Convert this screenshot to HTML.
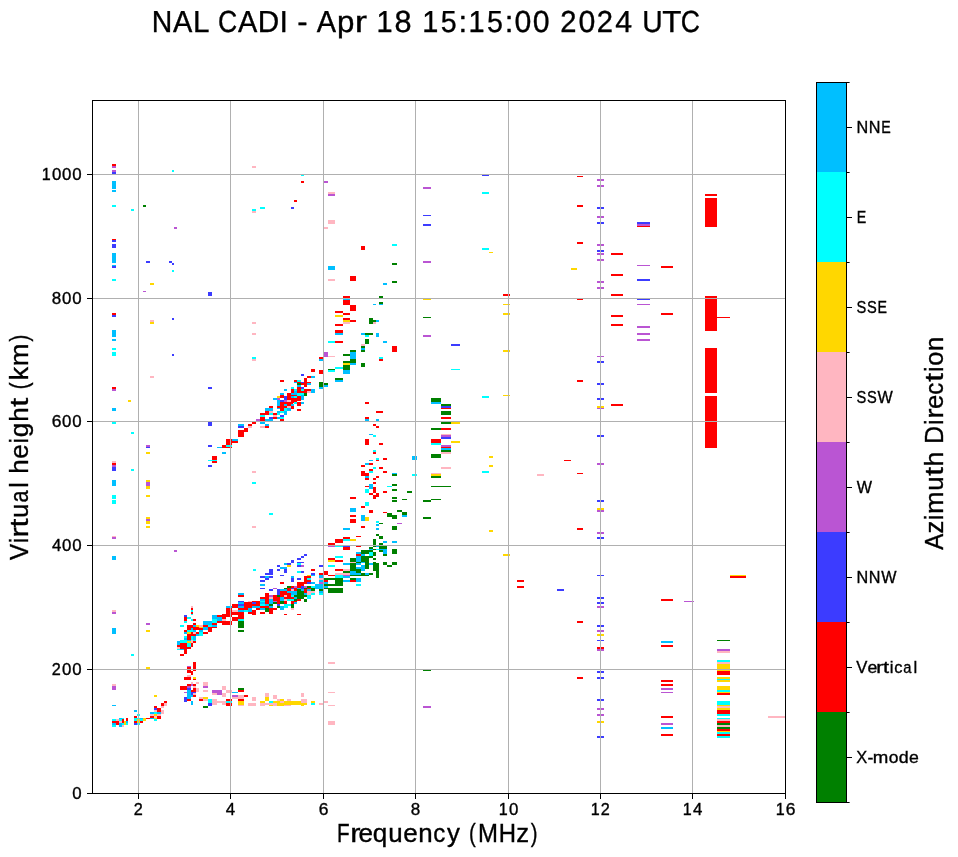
<!DOCTYPE html><html><head><meta charset="utf-8"><style>html,body{margin:0;padding:0;background:#fff;width:958px;height:857px;overflow:hidden}svg{display:block;will-change:transform}text{font-family:"Liberation Sans", sans-serif;fill:#000;stroke:#000;stroke-width:0.35px}</style></head><body>
<svg width="958" height="857" viewBox="0 0 958 857" shape-rendering="crispEdges">
<rect x="0" y="0" width="958" height="857" fill="#fff"/>
<g>
<rect x="112" y="164" width="4" height="2" fill="#ff0000"/>
<rect x="112" y="166" width="4" height="2" fill="#ba55d3"/>
<rect x="112" y="170" width="4" height="2" fill="#ba55d3"/>
<rect x="112" y="172" width="4" height="2" fill="#3c3cff"/>
<rect x="112" y="181" width="4" height="8" fill="#00bfff"/>
<rect x="112" y="190" width="4" height="2" fill="#00bfff"/>
<rect x="112" y="205" width="4" height="2" fill="#00ffff"/>
<rect x="131" y="209" width="3" height="2" fill="#00ffff"/>
<rect x="143" y="205" width="3" height="2" fill="#008000"/>
<rect x="172" y="170" width="2" height="2" fill="#00ffff"/>
<rect x="174" y="227" width="3" height="2" fill="#ba55d3"/>
<rect x="112" y="239" width="4" height="1" fill="#ff0000"/>
<rect x="112" y="240" width="4" height="2" fill="#3c3cff"/>
<rect x="112" y="244" width="4" height="4" fill="#3c3cff"/>
<rect x="252" y="166" width="4" height="2" fill="#ffb6c1"/>
<rect x="252" y="209" width="4" height="2" fill="#00ffff"/>
<rect x="252" y="211" width="4" height="2" fill="#ffb6c1"/>
<rect x="260" y="207" width="5" height="2" fill="#00ffff"/>
<rect x="291" y="207" width="3" height="2" fill="#3c3cff"/>
<rect x="301" y="175" width="3" height="1" fill="#00ffff"/>
<rect x="301" y="181" width="3" height="2" fill="#ff0000"/>
<rect x="324" y="181" width="4" height="2" fill="#ba55d3"/>
<rect x="328" y="192" width="7" height="2" fill="#ffb6c1"/>
<rect x="328" y="194" width="7" height="2" fill="#ba55d3"/>
<rect x="294" y="200" width="3" height="2" fill="#ff0000"/>
<rect x="328" y="220" width="7" height="4" fill="#ffb6c1"/>
<rect x="324" y="227" width="4" height="2" fill="#ffb6c1"/>
<rect x="392" y="244" width="5" height="2" fill="#00ffff"/>
<rect x="423" y="187" width="8" height="2" fill="#ba55d3"/>
<rect x="423" y="215" width="8" height="1" fill="#3c3cff"/>
<rect x="423" y="224" width="8" height="2" fill="#3c3cff"/>
<rect x="482" y="175" width="7" height="1" fill="#3c3cff"/>
<rect x="482" y="192" width="7" height="2" fill="#00ffff"/>
<rect x="482" y="248" width="7" height="2" fill="#00ffff"/>
<rect x="577" y="176" width="6" height="1" fill="#ff0000"/>
<rect x="577" y="205" width="6" height="2" fill="#ff0000"/>
<rect x="577" y="242" width="6" height="2" fill="#ff0000"/>
<rect x="597" y="179" width="7" height="2" fill="#ba55d3"/>
<rect x="597" y="185" width="7" height="2" fill="#ba55d3"/>
<rect x="597" y="207" width="7" height="2" fill="#3c3cff"/>
<rect x="597" y="216" width="7" height="2" fill="#ba55d3"/>
<rect x="597" y="222" width="7" height="2" fill="#3c3cff"/>
<rect x="597" y="244" width="7" height="2" fill="#ba55d3"/>
<rect x="637" y="222" width="13" height="2" fill="#3c3cff"/>
<rect x="637" y="224" width="13" height="2" fill="#ba55d3"/>
<rect x="637" y="226" width="13" height="1" fill="#ff0000"/>
<rect x="705" y="194" width="12" height="2" fill="#ff0000"/>
<rect x="705" y="198" width="12" height="29" fill="#ff0000"/>
<rect x="112" y="253" width="4" height="10" fill="#00bfff"/>
<rect x="112" y="265" width="4" height="1" fill="#00bfff"/>
<rect x="112" y="266" width="4" height="2" fill="#3c3cff"/>
<rect x="112" y="279" width="4" height="2" fill="#00ffff"/>
<rect x="112" y="313" width="4" height="2" fill="#ff0000"/>
<rect x="112" y="315" width="4" height="2" fill="#3c3cff"/>
<rect x="112" y="330" width="4" height="7" fill="#00bfff"/>
<rect x="112" y="339" width="4" height="2" fill="#00bfff"/>
<rect x="112" y="348" width="4" height="2" fill="#00ffff"/>
<rect x="146" y="261" width="4" height="2" fill="#3c3cff"/>
<rect x="169" y="261" width="3" height="2" fill="#3c3cff"/>
<rect x="172" y="263" width="2" height="2" fill="#3c3cff"/>
<rect x="172" y="270" width="2" height="2" fill="#00ffff"/>
<rect x="150" y="283" width="4" height="2" fill="#ffd700"/>
<rect x="143" y="291" width="3" height="1" fill="#ba55d3"/>
<rect x="172" y="318" width="2" height="2" fill="#3c3cff"/>
<rect x="150" y="320" width="4" height="2" fill="#ffb6c1"/>
<rect x="150" y="322" width="4" height="2" fill="#ffd700"/>
<rect x="208" y="292" width="4" height="4" fill="#3c3cff"/>
<rect x="252" y="322" width="4" height="2" fill="#ffb6c1"/>
<rect x="252" y="333" width="4" height="2" fill="#ffb6c1"/>
<rect x="328" y="266" width="7" height="4" fill="#00bfff"/>
<rect x="328" y="279" width="7" height="2" fill="#ffb6c1"/>
<rect x="350" y="276" width="6" height="5" fill="#ff0000"/>
<rect x="392" y="263" width="5" height="2" fill="#008000"/>
<rect x="392" y="281" width="5" height="2" fill="#008000"/>
<rect x="383" y="283" width="4" height="2" fill="#00bfff"/>
<rect x="343" y="296" width="7" height="2" fill="#ff0000"/>
<rect x="343" y="298" width="7" height="2" fill="#00bfff"/>
<rect x="343" y="300" width="7" height="5" fill="#ff0000"/>
<rect x="350" y="305" width="6" height="6" fill="#ff0000"/>
<rect x="379" y="296" width="4" height="2" fill="#008000"/>
<rect x="379" y="302" width="4" height="2" fill="#008000"/>
<rect x="379" y="304" width="4" height="1" fill="#00bfff"/>
<rect x="373" y="304" width="3" height="1" fill="#00bfff"/>
<rect x="335" y="311" width="8" height="2" fill="#ff0000"/>
<rect x="343" y="313" width="7" height="2" fill="#ff0000"/>
<rect x="335" y="315" width="8" height="2" fill="#ffd700"/>
<rect x="343" y="318" width="7" height="2" fill="#ff0000"/>
<rect x="343" y="320" width="7" height="2" fill="#ffd700"/>
<rect x="343" y="322" width="7" height="2" fill="#ffb6c1"/>
<rect x="350" y="320" width="6" height="2" fill="#ff0000"/>
<rect x="335" y="324" width="8" height="2" fill="#ff0000"/>
<rect x="335" y="330" width="8" height="3" fill="#ff0000"/>
<rect x="335" y="333" width="8" height="2" fill="#00bfff"/>
<rect x="328" y="341" width="7" height="2" fill="#00ffff"/>
<rect x="335" y="341" width="8" height="2" fill="#ff0000"/>
<rect x="369" y="318" width="4" height="6" fill="#008000"/>
<rect x="373" y="320" width="3" height="2" fill="#008000"/>
<rect x="376" y="320" width="3" height="2" fill="#00bfff"/>
<rect x="373" y="322" width="3" height="2" fill="#ffb6c1"/>
<rect x="361" y="333" width="4" height="2" fill="#00bfff"/>
<rect x="365" y="333" width="8" height="2" fill="#008000"/>
<rect x="365" y="335" width="4" height="2" fill="#00ffff"/>
<rect x="376" y="333" width="3" height="4" fill="#00bfff"/>
<rect x="365" y="339" width="4" height="5" fill="#008000"/>
<rect x="383" y="341" width="4" height="2" fill="#00bfff"/>
<rect x="361" y="344" width="4" height="2" fill="#ffb6c1"/>
<rect x="361" y="346" width="4" height="2" fill="#008000"/>
<rect x="361" y="348" width="4" height="2" fill="#00bfff"/>
<rect x="392" y="346" width="5" height="6" fill="#ff0000"/>
<rect x="423" y="261" width="8" height="2" fill="#ba55d3"/>
<rect x="423" y="299" width="8" height="1" fill="#ffd700"/>
<rect x="423" y="317" width="8" height="1" fill="#008000"/>
<rect x="423" y="335" width="8" height="2" fill="#ba55d3"/>
<rect x="451" y="344" width="9" height="2" fill="#3c3cff"/>
<rect x="489" y="252" width="4" height="1" fill="#ffd700"/>
<rect x="503" y="294" width="7" height="2" fill="#ff0000"/>
<rect x="503" y="304" width="7" height="1" fill="#ffd700"/>
<rect x="503" y="313" width="7" height="2" fill="#ffd700"/>
<rect x="571" y="268" width="6" height="2" fill="#ffd700"/>
<rect x="577" y="299" width="6" height="1" fill="#ff0000"/>
<rect x="597" y="250" width="7" height="2" fill="#3c3cff"/>
<rect x="597" y="253" width="7" height="2" fill="#ba55d3"/>
<rect x="597" y="259" width="7" height="2" fill="#ba55d3"/>
<rect x="597" y="281" width="7" height="2" fill="#ba55d3"/>
<rect x="597" y="287" width="7" height="2" fill="#ba55d3"/>
<rect x="611" y="253" width="12" height="2" fill="#ff0000"/>
<rect x="611" y="274" width="12" height="2" fill="#ff0000"/>
<rect x="611" y="294" width="12" height="2" fill="#ff0000"/>
<rect x="611" y="315" width="12" height="2" fill="#ff0000"/>
<rect x="611" y="324" width="12" height="2" fill="#ff0000"/>
<rect x="637" y="265" width="13" height="1" fill="#ba55d3"/>
<rect x="637" y="279" width="13" height="2" fill="#3c3cff"/>
<rect x="637" y="299" width="13" height="1" fill="#3c3cff"/>
<rect x="637" y="304" width="13" height="1" fill="#ba55d3"/>
<rect x="637" y="326" width="13" height="2" fill="#ba55d3"/>
<rect x="637" y="333" width="13" height="2" fill="#ba55d3"/>
<rect x="637" y="339" width="13" height="2" fill="#ba55d3"/>
<rect x="661" y="266" width="12" height="2" fill="#ff0000"/>
<rect x="661" y="313" width="12" height="2" fill="#ff0000"/>
<rect x="705" y="296" width="12" height="35" fill="#ff0000"/>
<rect x="717" y="317" width="13" height="1" fill="#ff0000"/>
<rect x="705" y="348" width="12" height="45" fill="#ff0000"/>
<rect x="112" y="352" width="4" height="4" fill="#00ffff"/>
<rect x="172" y="354" width="2" height="2" fill="#3c3cff"/>
<rect x="150" y="376" width="4" height="2" fill="#ffb6c1"/>
<rect x="112" y="387" width="4" height="2" fill="#ff0000"/>
<rect x="112" y="389" width="4" height="2" fill="#ba55d3"/>
<rect x="128" y="400" width="3" height="2" fill="#ffd700"/>
<rect x="112" y="408" width="4" height="3" fill="#00bfff"/>
<rect x="112" y="422" width="4" height="2" fill="#00ffff"/>
<rect x="131" y="432" width="3" height="2" fill="#00ffff"/>
<rect x="146" y="445" width="4" height="2" fill="#ba55d3"/>
<rect x="146" y="447" width="4" height="1" fill="#3c3cff"/>
<rect x="252" y="357" width="4" height="2" fill="#00ffff"/>
<rect x="252" y="359" width="4" height="2" fill="#ffb6c1"/>
<rect x="208" y="387" width="4" height="2" fill="#3c3cff"/>
<rect x="208" y="422" width="4" height="4" fill="#3c3cff"/>
<rect x="208" y="445" width="4" height="2" fill="#3c3cff"/>
<rect x="217" y="447" width="5" height="1" fill="#00bfff"/>
<rect x="280" y="380" width="4" height="2" fill="#ff0000"/>
<rect x="291" y="387" width="2" height="2" fill="#00ffff"/>
<rect x="284" y="389" width="3" height="2" fill="#00bfff"/>
<rect x="291" y="389" width="2" height="4" fill="#ff0000"/>
<rect x="280" y="393" width="4" height="2" fill="#00bfff"/>
<rect x="287" y="393" width="4" height="2" fill="#ff0000"/>
<rect x="291" y="393" width="2" height="2" fill="#00bfff"/>
<rect x="277" y="396" width="3" height="2" fill="#ffd700"/>
<rect x="280" y="395" width="4" height="3" fill="#ff0000"/>
<rect x="287" y="395" width="6" height="5" fill="#ff0000"/>
<rect x="284" y="396" width="3" height="4" fill="#3c3cff"/>
<rect x="291" y="396" width="2" height="2" fill="#00bfff"/>
<rect x="273" y="398" width="4" height="2" fill="#00bfff"/>
<rect x="277" y="398" width="3" height="2" fill="#ba55d3"/>
<rect x="277" y="400" width="3" height="6" fill="#00bfff"/>
<rect x="280" y="400" width="4" height="2" fill="#3c3cff"/>
<rect x="284" y="400" width="3" height="2" fill="#ba55d3"/>
<rect x="287" y="400" width="4" height="2" fill="#ffb6c1"/>
<rect x="291" y="400" width="2" height="2" fill="#ff0000"/>
<rect x="280" y="402" width="13" height="4" fill="#ff0000"/>
<rect x="284" y="404" width="3" height="2" fill="#00bfff"/>
<rect x="291" y="404" width="2" height="2" fill="#00bfff"/>
<rect x="269" y="406" width="4" height="2" fill="#ff0000"/>
<rect x="277" y="406" width="10" height="2" fill="#ff0000"/>
<rect x="287" y="406" width="4" height="2" fill="#ffb6c1"/>
<rect x="291" y="406" width="2" height="3" fill="#ff0000"/>
<rect x="265" y="408" width="8" height="3" fill="#00bfff"/>
<rect x="277" y="408" width="3" height="1" fill="#00bfff"/>
<rect x="280" y="408" width="4" height="3" fill="#ff0000"/>
<rect x="284" y="408" width="3" height="3" fill="#00ffff"/>
<rect x="287" y="408" width="4" height="3" fill="#00bfff"/>
<rect x="265" y="411" width="4" height="2" fill="#ff0000"/>
<rect x="260" y="413" width="9" height="2" fill="#ff0000"/>
<rect x="269" y="411" width="4" height="2" fill="#ffb6c1"/>
<rect x="269" y="413" width="4" height="2" fill="#00ffff"/>
<rect x="273" y="413" width="4" height="2" fill="#ff0000"/>
<rect x="277" y="411" width="3" height="2" fill="#00bfff"/>
<rect x="277" y="413" width="3" height="2" fill="#00ffff"/>
<rect x="280" y="411" width="4" height="2" fill="#00ffff"/>
<rect x="284" y="411" width="3" height="4" fill="#00bfff"/>
<rect x="260" y="415" width="5" height="2" fill="#00ffff"/>
<rect x="260" y="417" width="5" height="4" fill="#ff0000"/>
<rect x="256" y="419" width="4" height="2" fill="#ba55d3"/>
<rect x="252" y="422" width="4" height="2" fill="#ff0000"/>
<rect x="260" y="422" width="5" height="2" fill="#00bfff"/>
<rect x="248" y="424" width="4" height="2" fill="#ff0000"/>
<rect x="248" y="426" width="4" height="2" fill="#ffb6c1"/>
<rect x="260" y="426" width="5" height="2" fill="#ffb6c1"/>
<rect x="238" y="424" width="6" height="2" fill="#00bfff"/>
<rect x="238" y="426" width="6" height="2" fill="#3c3cff"/>
<rect x="244" y="428" width="4" height="4" fill="#ff0000"/>
<rect x="238" y="430" width="6" height="7" fill="#ff0000"/>
<rect x="226" y="439" width="6" height="9" fill="#ff0000"/>
<rect x="232" y="439" width="6" height="2" fill="#00bfff"/>
<rect x="232" y="441" width="6" height="2" fill="#ff0000"/>
<rect x="222" y="445" width="4" height="3" fill="#ff0000"/>
<rect x="226" y="445" width="6" height="2" fill="#00ffff"/>
<rect x="273" y="415" width="4" height="2" fill="#ffb6c1"/>
<rect x="280" y="415" width="4" height="2" fill="#3c3cff"/>
<rect x="269" y="417" width="4" height="2" fill="#3c3cff"/>
<rect x="273" y="417" width="4" height="2" fill="#ff0000"/>
<rect x="277" y="417" width="3" height="2" fill="#00bfff"/>
<rect x="280" y="417" width="4" height="2" fill="#00ffff"/>
<rect x="265" y="419" width="8" height="2" fill="#00bfff"/>
<rect x="280" y="419" width="4" height="2" fill="#ff0000"/>
<rect x="265" y="424" width="4" height="2" fill="#00bfff"/>
<rect x="265" y="426" width="4" height="2" fill="#ff0000"/>
<rect x="324" y="352" width="4" height="5" fill="#ba55d3"/>
<rect x="328" y="356" width="7" height="1" fill="#ffb6c1"/>
<rect x="319" y="357" width="4" height="2" fill="#ff0000"/>
<rect x="319" y="359" width="4" height="2" fill="#00bfff"/>
<rect x="343" y="354" width="7" height="2" fill="#008000"/>
<rect x="350" y="352" width="6" height="7" fill="#00bfff"/>
<rect x="350" y="350" width="6" height="2" fill="#008000"/>
<rect x="361" y="350" width="4" height="2" fill="#008000"/>
<rect x="343" y="361" width="7" height="2" fill="#008000"/>
<rect x="350" y="359" width="6" height="4" fill="#008000"/>
<rect x="343" y="363" width="7" height="2" fill="#ffd700"/>
<rect x="350" y="363" width="6" height="2" fill="#00bfff"/>
<rect x="343" y="365" width="7" height="5" fill="#008000"/>
<rect x="343" y="370" width="7" height="4" fill="#00bfff"/>
<rect x="335" y="367" width="8" height="2" fill="#00ffff"/>
<rect x="328" y="369" width="7" height="1" fill="#008000"/>
<rect x="328" y="370" width="7" height="2" fill="#00ffff"/>
<rect x="361" y="363" width="4" height="4" fill="#008000"/>
<rect x="379" y="357" width="4" height="2" fill="#00ffff"/>
<rect x="379" y="359" width="4" height="2" fill="#ff0000"/>
<rect x="335" y="378" width="8" height="2" fill="#008000"/>
<rect x="335" y="380" width="8" height="2" fill="#00bfff"/>
<rect x="319" y="382" width="4" height="5" fill="#008000"/>
<rect x="319" y="387" width="4" height="2" fill="#00bfff"/>
<rect x="324" y="383" width="4" height="2" fill="#008000"/>
<rect x="324" y="385" width="4" height="2" fill="#00bfff"/>
<rect x="319" y="370" width="4" height="4" fill="#ff0000"/>
<rect x="311" y="369" width="4" height="3" fill="#ff0000"/>
<rect x="365" y="402" width="4" height="2" fill="#ff0000"/>
<rect x="376" y="411" width="7" height="2" fill="#ff0000"/>
<rect x="365" y="417" width="4" height="2" fill="#ff0000"/>
<rect x="365" y="419" width="4" height="2" fill="#00bfff"/>
<rect x="376" y="419" width="3" height="2" fill="#00bfff"/>
<rect x="373" y="424" width="3" height="2" fill="#ff0000"/>
<rect x="376" y="426" width="3" height="2" fill="#ff0000"/>
<rect x="369" y="434" width="4" height="1" fill="#00bfff"/>
<rect x="373" y="435" width="3" height="2" fill="#00ffff"/>
<rect x="365" y="439" width="4" height="6" fill="#ff0000"/>
<rect x="379" y="443" width="4" height="2" fill="#ff0000"/>
<rect x="301" y="374" width="3" height="2" fill="#3c3cff"/>
<rect x="307" y="376" width="4" height="2" fill="#ff0000"/>
<rect x="311" y="376" width="4" height="2" fill="#00bfff"/>
<rect x="304" y="378" width="3" height="9" fill="#ff0000"/>
<rect x="294" y="380" width="3" height="2" fill="#ff0000"/>
<rect x="297" y="380" width="4" height="2" fill="#00ffff"/>
<rect x="294" y="382" width="3" height="1" fill="#00bfff"/>
<rect x="297" y="382" width="4" height="1" fill="#ff0000"/>
<rect x="301" y="382" width="3" height="1" fill="#3c3cff"/>
<rect x="307" y="382" width="4" height="1" fill="#ff0000"/>
<rect x="297" y="383" width="4" height="2" fill="#008000"/>
<rect x="301" y="383" width="3" height="2" fill="#ff0000"/>
<rect x="307" y="383" width="4" height="2" fill="#00bfff"/>
<rect x="297" y="385" width="4" height="2" fill="#00bfff"/>
<rect x="291" y="387" width="3" height="2" fill="#00ffff"/>
<rect x="297" y="387" width="4" height="6" fill="#ff0000"/>
<rect x="301" y="387" width="3" height="2" fill="#3c3cff"/>
<rect x="291" y="389" width="3" height="4" fill="#ff0000"/>
<rect x="294" y="389" width="3" height="2" fill="#00ffff"/>
<rect x="294" y="391" width="3" height="2" fill="#00bfff"/>
<rect x="301" y="389" width="3" height="2" fill="#00ffff"/>
<rect x="301" y="391" width="3" height="2" fill="#ff0000"/>
<rect x="304" y="389" width="7" height="2" fill="#ff0000"/>
<rect x="304" y="391" width="3" height="2" fill="#ff0000"/>
<rect x="307" y="391" width="4" height="2" fill="#ffb6c1"/>
<rect x="311" y="389" width="4" height="4" fill="#00bfff"/>
<rect x="289" y="393" width="2" height="13" fill="#ff0000"/>
<rect x="291" y="393" width="6" height="2" fill="#00bfff"/>
<rect x="297" y="393" width="7" height="2" fill="#00ffff"/>
<rect x="304" y="393" width="3" height="3" fill="#008000"/>
<rect x="291" y="395" width="6" height="1" fill="#ff0000"/>
<rect x="291" y="396" width="3" height="2" fill="#00bfff"/>
<rect x="294" y="396" width="3" height="2" fill="#00ffff"/>
<rect x="297" y="395" width="4" height="1" fill="#00ffff"/>
<rect x="297" y="396" width="4" height="3" fill="#ff0000"/>
<rect x="301" y="395" width="3" height="5" fill="#00bfff"/>
<rect x="291" y="398" width="10" height="3" fill="#ff0000"/>
<rect x="289" y="400" width="2" height="2" fill="#ffb6c1"/>
<rect x="291" y="401" width="6" height="2" fill="#ff0000"/>
<rect x="294" y="402" width="3" height="2" fill="#00ffff"/>
<rect x="297" y="402" width="4" height="4" fill="#ff0000"/>
<rect x="301" y="402" width="3" height="2" fill="#00bfff"/>
<rect x="291" y="404" width="3" height="2" fill="#00bfff"/>
<rect x="289" y="406" width="2" height="2" fill="#ffb6c1"/>
<rect x="291" y="406" width="3" height="3" fill="#ff0000"/>
<rect x="289" y="408" width="2" height="3" fill="#00bfff"/>
<rect x="297" y="409" width="4" height="2" fill="#ff0000"/>
<rect x="451" y="369" width="9" height="1" fill="#00ffff"/>
<rect x="482" y="396" width="7" height="2" fill="#00ffff"/>
<rect x="431" y="398" width="10" height="4" fill="#008000"/>
<rect x="431" y="402" width="10" height="2" fill="#00bfff"/>
<rect x="441" y="404" width="10" height="2" fill="#008000"/>
<rect x="441" y="406" width="10" height="2" fill="#3c3cff"/>
<rect x="441" y="408" width="10" height="1" fill="#ff0000"/>
<rect x="441" y="411" width="10" height="4" fill="#008000"/>
<rect x="441" y="417" width="10" height="2" fill="#ff0000"/>
<rect x="441" y="422" width="10" height="2" fill="#008000"/>
<rect x="451" y="422" width="9" height="2" fill="#ffd700"/>
<rect x="431" y="428" width="10" height="2" fill="#008000"/>
<rect x="441" y="428" width="10" height="2" fill="#ff0000"/>
<rect x="441" y="434" width="10" height="1" fill="#ffb6c1"/>
<rect x="441" y="435" width="10" height="2" fill="#ba55d3"/>
<rect x="441" y="437" width="10" height="2" fill="#3c3cff"/>
<rect x="431" y="439" width="10" height="4" fill="#ff0000"/>
<rect x="431" y="443" width="10" height="2" fill="#00ffff"/>
<rect x="451" y="441" width="9" height="2" fill="#ffd700"/>
<rect x="441" y="445" width="10" height="2" fill="#ba55d3"/>
<rect x="441" y="447" width="10" height="1" fill="#ff0000"/>
<rect x="441" y="448" width="10" height="2" fill="#00bfff"/>
<rect x="503" y="350" width="7" height="2" fill="#ffd700"/>
<rect x="503" y="395" width="7" height="1" fill="#ffd700"/>
<rect x="577" y="380" width="6" height="2" fill="#ff0000"/>
<rect x="597" y="356" width="7" height="1" fill="#ba55d3"/>
<rect x="597" y="361" width="7" height="2" fill="#3c3cff"/>
<rect x="597" y="383" width="7" height="2" fill="#3c3cff"/>
<rect x="597" y="398" width="7" height="2" fill="#3c3cff"/>
<rect x="597" y="406" width="7" height="2" fill="#ffd700"/>
<rect x="597" y="408" width="7" height="1" fill="#ba55d3"/>
<rect x="597" y="435" width="7" height="2" fill="#3c3cff"/>
<rect x="611" y="404" width="12" height="2" fill="#ff0000"/>
<rect x="705" y="396" width="12" height="52" fill="#ff0000"/>
<rect x="112" y="461" width="4" height="2" fill="#ffb6c1"/>
<rect x="112" y="463" width="4" height="2" fill="#ff0000"/>
<rect x="112" y="465" width="4" height="2" fill="#ba55d3"/>
<rect x="112" y="467" width="4" height="4" fill="#3c3cff"/>
<rect x="112" y="480" width="4" height="6" fill="#00bfff"/>
<rect x="112" y="495" width="4" height="4" fill="#00ffff"/>
<rect x="112" y="500" width="4" height="4" fill="#00ffff"/>
<rect x="112" y="536" width="4" height="1" fill="#ffb6c1"/>
<rect x="112" y="537" width="4" height="2" fill="#ba55d3"/>
<rect x="131" y="469" width="3" height="2" fill="#00ffff"/>
<rect x="146" y="452" width="4" height="2" fill="#ffd700"/>
<rect x="146" y="480" width="4" height="2" fill="#ffd700"/>
<rect x="146" y="482" width="4" height="4" fill="#ba55d3"/>
<rect x="146" y="486" width="4" height="3" fill="#ffd700"/>
<rect x="146" y="495" width="4" height="2" fill="#ffd700"/>
<rect x="146" y="517" width="4" height="2" fill="#ffd700"/>
<rect x="146" y="519" width="4" height="2" fill="#ba55d3"/>
<rect x="146" y="521" width="4" height="3" fill="#ffd700"/>
<rect x="146" y="526" width="4" height="2" fill="#ffd700"/>
<rect x="222" y="452" width="4" height="2" fill="#00bfff"/>
<rect x="212" y="456" width="5" height="7" fill="#ff0000"/>
<rect x="208" y="460" width="9" height="1" fill="#00ffff"/>
<rect x="208" y="465" width="4" height="2" fill="#3c3cff"/>
<rect x="252" y="471" width="4" height="2" fill="#ffb6c1"/>
<rect x="252" y="482" width="4" height="2" fill="#00ffff"/>
<rect x="269" y="513" width="4" height="2" fill="#00ffff"/>
<rect x="252" y="526" width="4" height="2" fill="#ffb6c1"/>
<rect x="373" y="450" width="3" height="2" fill="#00ffff"/>
<rect x="373" y="452" width="3" height="2" fill="#ff0000"/>
<rect x="376" y="458" width="3" height="2" fill="#00ffff"/>
<rect x="376" y="460" width="3" height="1" fill="#ff0000"/>
<rect x="383" y="458" width="4" height="2" fill="#ff0000"/>
<rect x="369" y="460" width="4" height="1" fill="#00bfff"/>
<rect x="365" y="463" width="4" height="2" fill="#00bfff"/>
<rect x="369" y="463" width="4" height="2" fill="#ff0000"/>
<rect x="361" y="465" width="4" height="2" fill="#ff0000"/>
<rect x="373" y="467" width="3" height="2" fill="#00ffff"/>
<rect x="379" y="467" width="4" height="2" fill="#ff0000"/>
<rect x="369" y="469" width="4" height="2" fill="#ff0000"/>
<rect x="369" y="471" width="4" height="2" fill="#00ffff"/>
<rect x="383" y="471" width="4" height="2" fill="#ff0000"/>
<rect x="361" y="471" width="4" height="5" fill="#ff0000"/>
<rect x="365" y="473" width="4" height="3" fill="#ff0000"/>
<rect x="365" y="476" width="4" height="2" fill="#00bfff"/>
<rect x="365" y="478" width="4" height="2" fill="#ff0000"/>
<rect x="376" y="476" width="3" height="2" fill="#ff0000"/>
<rect x="373" y="478" width="3" height="2" fill="#ff0000"/>
<rect x="373" y="482" width="3" height="2" fill="#ff0000"/>
<rect x="369" y="484" width="4" height="5" fill="#00bfff"/>
<rect x="365" y="486" width="4" height="1" fill="#ff0000"/>
<rect x="373" y="487" width="3" height="6" fill="#ff0000"/>
<rect x="365" y="489" width="4" height="4" fill="#00ffff"/>
<rect x="387" y="486" width="5" height="1" fill="#00ffff"/>
<rect x="383" y="491" width="4" height="2" fill="#ff0000"/>
<rect x="369" y="493" width="4" height="2" fill="#ff0000"/>
<rect x="376" y="493" width="3" height="4" fill="#ff0000"/>
<rect x="373" y="495" width="3" height="4" fill="#ff0000"/>
<rect x="353" y="497" width="3" height="2" fill="#ff0000"/>
<rect x="350" y="497" width="6" height="2" fill="#ff0000"/>
<rect x="365" y="502" width="4" height="4" fill="#00ffff"/>
<rect x="361" y="506" width="4" height="2" fill="#ff0000"/>
<rect x="350" y="508" width="6" height="4" fill="#00bfff"/>
<rect x="369" y="510" width="4" height="3" fill="#ff0000"/>
<rect x="383" y="512" width="4" height="1" fill="#ff0000"/>
<rect x="350" y="515" width="6" height="2" fill="#ff0000"/>
<rect x="361" y="515" width="4" height="6" fill="#00bfff"/>
<rect x="365" y="517" width="4" height="4" fill="#ffd700"/>
<rect x="350" y="519" width="6" height="4" fill="#ff0000"/>
<rect x="361" y="526" width="4" height="2" fill="#ff0000"/>
<rect x="343" y="528" width="7" height="2" fill="#00bfff"/>
<rect x="356" y="536" width="5" height="1" fill="#ff0000"/>
<rect x="343" y="537" width="7" height="2" fill="#ff0000"/>
<rect x="335" y="539" width="8" height="4" fill="#ff0000"/>
<rect x="343" y="539" width="7" height="2" fill="#00ffff"/>
<rect x="350" y="539" width="6" height="2" fill="#ffd700"/>
<rect x="328" y="543" width="7" height="2" fill="#ff0000"/>
<rect x="328" y="546" width="7" height="1" fill="#ba55d3"/>
<rect x="335" y="546" width="8" height="1" fill="#00ffff"/>
<rect x="343" y="546" width="7" height="1" fill="#3c3cff"/>
<rect x="343" y="547" width="7" height="3" fill="#ff0000"/>
<rect x="356" y="546" width="5" height="1" fill="#ff0000"/>
<rect x="387" y="513" width="5" height="4" fill="#008000"/>
<rect x="376" y="521" width="3" height="2" fill="#00ffff"/>
<rect x="379" y="523" width="4" height="1" fill="#008000"/>
<rect x="376" y="524" width="3" height="2" fill="#00bfff"/>
<rect x="376" y="528" width="3" height="2" fill="#00bfff"/>
<rect x="376" y="534" width="3" height="2" fill="#008000"/>
<rect x="379" y="536" width="4" height="3" fill="#008000"/>
<rect x="373" y="539" width="3" height="6" fill="#008000"/>
<rect x="383" y="541" width="4" height="2" fill="#00bfff"/>
<rect x="379" y="543" width="4" height="2" fill="#008000"/>
<rect x="373" y="546" width="3" height="1" fill="#008000"/>
<rect x="376" y="546" width="3" height="1" fill="#00bfff"/>
<rect x="379" y="546" width="8" height="3" fill="#008000"/>
<rect x="369" y="547" width="4" height="2" fill="#008000"/>
<rect x="369" y="549" width="4" height="1" fill="#00bfff"/>
<rect x="373" y="549" width="3" height="1" fill="#008000"/>
<rect x="376" y="549" width="3" height="1" fill="#00ffff"/>
<rect x="379" y="549" width="8" height="1" fill="#00bfff"/>
<rect x="441" y="450" width="10" height="2" fill="#008000"/>
<rect x="441" y="452" width="10" height="2" fill="#ffb6c1"/>
<rect x="431" y="454" width="10" height="4" fill="#008000"/>
<rect x="412" y="456" width="5" height="4" fill="#00bfff"/>
<rect x="489" y="456" width="4" height="2" fill="#ffd700"/>
<rect x="489" y="465" width="4" height="2" fill="#ffd700"/>
<rect x="441" y="467" width="10" height="2" fill="#ffb6c1"/>
<rect x="482" y="471" width="7" height="2" fill="#00ffff"/>
<rect x="392" y="473" width="5" height="1" fill="#00bfff"/>
<rect x="392" y="474" width="5" height="2" fill="#008000"/>
<rect x="412" y="474" width="5" height="2" fill="#00ffff"/>
<rect x="431" y="473" width="10" height="1" fill="#ffb6c1"/>
<rect x="431" y="474" width="10" height="2" fill="#ffd700"/>
<rect x="431" y="476" width="10" height="2" fill="#008000"/>
<rect x="392" y="484" width="5" height="2" fill="#008000"/>
<rect x="431" y="486" width="20" height="1" fill="#008000"/>
<rect x="392" y="489" width="5" height="2" fill="#008000"/>
<rect x="407" y="491" width="5" height="2" fill="#008000"/>
<rect x="392" y="497" width="5" height="2" fill="#008000"/>
<rect x="402" y="499" width="5" height="1" fill="#008000"/>
<rect x="392" y="500" width="5" height="2" fill="#008000"/>
<rect x="423" y="500" width="8" height="2" fill="#008000"/>
<rect x="431" y="499" width="10" height="1" fill="#008000"/>
<rect x="397" y="510" width="5" height="2" fill="#008000"/>
<rect x="402" y="512" width="5" height="3" fill="#008000"/>
<rect x="402" y="515" width="5" height="2" fill="#00bfff"/>
<rect x="392" y="515" width="5" height="4" fill="#008000"/>
<rect x="423" y="517" width="8" height="2" fill="#008000"/>
<rect x="397" y="523" width="5" height="1" fill="#ba55d3"/>
<rect x="392" y="526" width="5" height="4" fill="#008000"/>
<rect x="489" y="530" width="4" height="2" fill="#ffd700"/>
<rect x="392" y="541" width="5" height="2" fill="#00bfff"/>
<rect x="392" y="549" width="5" height="1" fill="#008000"/>
<rect x="564" y="460" width="7" height="1" fill="#ff0000"/>
<rect x="577" y="473" width="6" height="1" fill="#ff0000"/>
<rect x="537" y="474" width="7" height="2" fill="#ffb6c1"/>
<rect x="577" y="528" width="6" height="2" fill="#ff0000"/>
<rect x="597" y="463" width="7" height="2" fill="#ba55d3"/>
<rect x="597" y="500" width="7" height="2" fill="#3c3cff"/>
<rect x="597" y="508" width="7" height="2" fill="#ffd700"/>
<rect x="597" y="510" width="7" height="2" fill="#ba55d3"/>
<rect x="597" y="532" width="7" height="2" fill="#ba55d3"/>
<rect x="597" y="537" width="7" height="2" fill="#3c3cff"/>
<rect x="112" y="556" width="4" height="4" fill="#00bfff"/>
<rect x="174" y="550" width="3" height="2" fill="#ba55d3"/>
<rect x="112" y="610" width="4" height="2" fill="#ffb6c1"/>
<rect x="112" y="612" width="4" height="2" fill="#ba55d3"/>
<rect x="146" y="623" width="4" height="2" fill="#ba55d3"/>
<rect x="146" y="630" width="4" height="2" fill="#ffd700"/>
<rect x="112" y="628" width="4" height="6" fill="#00bfff"/>
<rect x="191" y="606" width="2" height="2" fill="#ffb6c1"/>
<rect x="191" y="608" width="2" height="2" fill="#ff0000"/>
<rect x="191" y="610" width="2" height="2" fill="#00ffff"/>
<rect x="191" y="612" width="2" height="2" fill="#ff0000"/>
<rect x="191" y="614" width="2" height="1" fill="#00ffff"/>
<rect x="184" y="615" width="3" height="2" fill="#3c3cff"/>
<rect x="184" y="617" width="3" height="4" fill="#ff0000"/>
<rect x="187" y="617" width="4" height="2" fill="#00ffff"/>
<rect x="191" y="619" width="2" height="2" fill="#00ffff"/>
<rect x="193" y="619" width="3" height="2" fill="#ff0000"/>
<rect x="184" y="621" width="3" height="2" fill="#00ffff"/>
<rect x="203" y="621" width="9" height="4" fill="#00bfff"/>
<rect x="193" y="623" width="3" height="2" fill="#ff0000"/>
<rect x="180" y="625" width="4" height="2" fill="#00ffff"/>
<rect x="187" y="625" width="6" height="5" fill="#ff0000"/>
<rect x="193" y="625" width="3" height="2" fill="#00bfff"/>
<rect x="196" y="625" width="3" height="2" fill="#ffd700"/>
<rect x="199" y="625" width="4" height="2" fill="#ffb6c1"/>
<rect x="203" y="625" width="5" height="2" fill="#ff0000"/>
<rect x="208" y="625" width="4" height="2" fill="#00ffff"/>
<rect x="193" y="627" width="10" height="3" fill="#ff0000"/>
<rect x="199" y="627" width="4" height="1" fill="#ffd700"/>
<rect x="191" y="628" width="2" height="2" fill="#00bfff"/>
<rect x="203" y="627" width="5" height="3" fill="#00bfff"/>
<rect x="208" y="627" width="4" height="5" fill="#ff0000"/>
<rect x="184" y="630" width="3" height="2" fill="#ff0000"/>
<rect x="187" y="630" width="6" height="2" fill="#00ffff"/>
<rect x="193" y="630" width="3" height="2" fill="#00bfff"/>
<rect x="199" y="630" width="4" height="2" fill="#00bfff"/>
<rect x="184" y="632" width="3" height="2" fill="#00bfff"/>
<rect x="187" y="632" width="4" height="2" fill="#ffd700"/>
<rect x="191" y="632" width="2" height="2" fill="#ff0000"/>
<rect x="193" y="632" width="3" height="2" fill="#ffb6c1"/>
<rect x="196" y="632" width="3" height="2" fill="#ff0000"/>
<rect x="199" y="632" width="4" height="4" fill="#00ffff"/>
<rect x="203" y="632" width="5" height="2" fill="#ff0000"/>
<rect x="187" y="634" width="9" height="2" fill="#ff0000"/>
<rect x="196" y="634" width="3" height="2" fill="#00bfff"/>
<rect x="184" y="636" width="3" height="2" fill="#00ffff"/>
<rect x="187" y="636" width="4" height="4" fill="#ff0000"/>
<rect x="191" y="636" width="2" height="4" fill="#00ffff"/>
<rect x="193" y="636" width="3" height="4" fill="#00bfff"/>
<rect x="184" y="638" width="3" height="2" fill="#00bfff"/>
<rect x="177" y="641" width="3" height="4" fill="#00bfff"/>
<rect x="180" y="640" width="7" height="3" fill="#00ffff"/>
<rect x="187" y="640" width="4" height="1" fill="#00bfff"/>
<rect x="187" y="641" width="4" height="2" fill="#ffd700"/>
<rect x="191" y="640" width="2" height="3" fill="#ffb6c1"/>
<rect x="193" y="640" width="3" height="1" fill="#00ffff"/>
<rect x="193" y="641" width="3" height="2" fill="#ff0000"/>
<rect x="180" y="643" width="7" height="7" fill="#ff0000"/>
<rect x="187" y="643" width="4" height="4" fill="#00ffff"/>
<rect x="191" y="643" width="2" height="4" fill="#ff0000"/>
<rect x="177" y="645" width="3" height="2" fill="#ff0000"/>
<rect x="177" y="647" width="3" height="2" fill="#ffb6c1"/>
<rect x="177" y="649" width="3" height="1" fill="#00ffff"/>
<rect x="187" y="647" width="4" height="2" fill="#ff0000"/>
<rect x="180" y="649" width="4" height="1" fill="#00bfff"/>
<rect x="238" y="601" width="6" height="1" fill="#3c3cff"/>
<rect x="238" y="602" width="6" height="2" fill="#00bfff"/>
<rect x="238" y="604" width="6" height="2" fill="#3c3cff"/>
<rect x="238" y="606" width="6" height="2" fill="#00bfff"/>
<rect x="244" y="602" width="6" height="8" fill="#ff0000"/>
<rect x="248" y="601" width="2" height="1" fill="#ffb6c1"/>
<rect x="232" y="604" width="6" height="4" fill="#ff0000"/>
<rect x="226" y="606" width="6" height="2" fill="#00bfff"/>
<rect x="226" y="608" width="6" height="9" fill="#ff0000"/>
<rect x="238" y="608" width="10" height="2" fill="#ff0000"/>
<rect x="232" y="610" width="6" height="2" fill="#ffb6c1"/>
<rect x="238" y="610" width="6" height="2" fill="#00bfff"/>
<rect x="244" y="610" width="4" height="2" fill="#00ffff"/>
<rect x="248" y="608" width="2" height="4" fill="#00bfff"/>
<rect x="248" y="612" width="2" height="2" fill="#ff0000"/>
<rect x="232" y="612" width="12" height="3" fill="#ff0000"/>
<rect x="238" y="615" width="6" height="4" fill="#ff0000"/>
<rect x="232" y="617" width="6" height="4" fill="#ff0000"/>
<rect x="238" y="619" width="6" height="2" fill="#00ffff"/>
<rect x="238" y="621" width="6" height="7" fill="#008000"/>
<rect x="238" y="630" width="6" height="2" fill="#008000"/>
<rect x="212" y="615" width="5" height="4" fill="#00bfff"/>
<rect x="217" y="615" width="5" height="2" fill="#ff0000"/>
<rect x="222" y="614" width="4" height="5" fill="#ff0000"/>
<rect x="217" y="617" width="5" height="4" fill="#00bfff"/>
<rect x="222" y="619" width="4" height="2" fill="#ffb6c1"/>
<rect x="212" y="619" width="5" height="4" fill="#00ffff"/>
<rect x="210" y="621" width="2" height="4" fill="#00bfff"/>
<rect x="217" y="621" width="15" height="2" fill="#ff0000"/>
<rect x="222" y="623" width="10" height="2" fill="#ff0000"/>
<rect x="212" y="623" width="5" height="2" fill="#ff0000"/>
<rect x="210" y="625" width="2" height="2" fill="#00ffff"/>
<rect x="212" y="625" width="5" height="2" fill="#00bfff"/>
<rect x="212" y="627" width="5" height="1" fill="#ff0000"/>
<rect x="210" y="627" width="2" height="5" fill="#ff0000"/>
<rect x="269" y="590" width="4" height="1" fill="#3c3cff"/>
<rect x="277" y="590" width="3" height="5" fill="#3c3cff"/>
<rect x="280" y="590" width="7" height="1" fill="#00bfff"/>
<rect x="287" y="590" width="1" height="1" fill="#ff0000"/>
<rect x="280" y="591" width="8" height="6" fill="#ff0000"/>
<rect x="287" y="591" width="1" height="2" fill="#00ffff"/>
<rect x="284" y="595" width="3" height="2" fill="#ffb6c1"/>
<rect x="265" y="593" width="4" height="11" fill="#ff0000"/>
<rect x="269" y="595" width="4" height="2" fill="#ba55d3"/>
<rect x="269" y="597" width="4" height="2" fill="#ffb6c1"/>
<rect x="269" y="599" width="4" height="5" fill="#00bfff"/>
<rect x="273" y="595" width="4" height="6" fill="#ff0000"/>
<rect x="273" y="601" width="4" height="1" fill="#ba55d3"/>
<rect x="273" y="602" width="4" height="2" fill="#008000"/>
<rect x="277" y="595" width="3" height="2" fill="#008000"/>
<rect x="277" y="597" width="3" height="7" fill="#ff0000"/>
<rect x="280" y="597" width="4" height="4" fill="#00bfff"/>
<rect x="280" y="601" width="4" height="3" fill="#008000"/>
<rect x="284" y="597" width="3" height="2" fill="#ff0000"/>
<rect x="284" y="599" width="3" height="2" fill="#ffb6c1"/>
<rect x="284" y="601" width="3" height="3" fill="#ff0000"/>
<rect x="287" y="599" width="1" height="2" fill="#00ffff"/>
<rect x="260" y="597" width="5" height="2" fill="#ff0000"/>
<rect x="260" y="599" width="5" height="2" fill="#00bfff"/>
<rect x="260" y="601" width="5" height="1" fill="#00ffff"/>
<rect x="260" y="602" width="5" height="2" fill="#00bfff"/>
<rect x="260" y="604" width="5" height="2" fill="#00ffff"/>
<rect x="265" y="604" width="4" height="2" fill="#00bfff"/>
<rect x="269" y="604" width="4" height="2" fill="#008000"/>
<rect x="277" y="604" width="3" height="2" fill="#3c3cff"/>
<rect x="277" y="606" width="3" height="2" fill="#008000"/>
<rect x="280" y="606" width="4" height="4" fill="#00bfff"/>
<rect x="284" y="604" width="4" height="4" fill="#00ffff"/>
<rect x="248" y="601" width="4" height="1" fill="#ffb6c1"/>
<rect x="248" y="602" width="4" height="6" fill="#ff0000"/>
<rect x="252" y="601" width="8" height="5" fill="#ff0000"/>
<rect x="252" y="602" width="4" height="2" fill="#3c3cff"/>
<rect x="252" y="606" width="8" height="2" fill="#00bfff"/>
<rect x="260" y="606" width="9" height="2" fill="#ff0000"/>
<rect x="269" y="606" width="4" height="2" fill="#00bfff"/>
<rect x="248" y="608" width="4" height="4" fill="#00bfff"/>
<rect x="256" y="608" width="4" height="2" fill="#ff0000"/>
<rect x="260" y="608" width="5" height="2" fill="#00bfff"/>
<rect x="265" y="608" width="4" height="4" fill="#008000"/>
<rect x="269" y="608" width="8" height="2" fill="#ff0000"/>
<rect x="269" y="610" width="4" height="4" fill="#ff0000"/>
<rect x="252" y="610" width="4" height="5" fill="#ff0000"/>
<rect x="248" y="612" width="4" height="2" fill="#ff0000"/>
<rect x="260" y="612" width="5" height="2" fill="#ff0000"/>
<rect x="284" y="614" width="3" height="1" fill="#ff0000"/>
<rect x="291" y="560" width="2" height="3" fill="#3c3cff"/>
<rect x="284" y="563" width="3" height="2" fill="#00bfff"/>
<rect x="287" y="563" width="4" height="2" fill="#3c3cff"/>
<rect x="287" y="565" width="4" height="2" fill="#ffd700"/>
<rect x="277" y="565" width="3" height="2" fill="#3c3cff"/>
<rect x="280" y="567" width="7" height="2" fill="#00bfff"/>
<rect x="277" y="569" width="3" height="2" fill="#3c3cff"/>
<rect x="284" y="569" width="3" height="4" fill="#3c3cff"/>
<rect x="253" y="569" width="3" height="2" fill="#00ffff"/>
<rect x="269" y="569" width="4" height="6" fill="#3c3cff"/>
<rect x="265" y="573" width="4" height="2" fill="#3c3cff"/>
<rect x="280" y="575" width="4" height="1" fill="#3c3cff"/>
<rect x="260" y="576" width="5" height="2" fill="#3c3cff"/>
<rect x="265" y="576" width="4" height="2" fill="#00bfff"/>
<rect x="269" y="576" width="4" height="2" fill="#3c3cff"/>
<rect x="265" y="578" width="4" height="2" fill="#3c3cff"/>
<rect x="291" y="576" width="2" height="2" fill="#00bfff"/>
<rect x="291" y="578" width="2" height="4" fill="#3c3cff"/>
<rect x="260" y="580" width="5" height="2" fill="#3c3cff"/>
<rect x="280" y="582" width="4" height="2" fill="#ff0000"/>
<rect x="260" y="584" width="5" height="2" fill="#00bfff"/>
<rect x="287" y="586" width="4" height="2" fill="#008000"/>
<rect x="291" y="586" width="2" height="2" fill="#ff0000"/>
<rect x="260" y="588" width="5" height="1" fill="#3c3cff"/>
<rect x="273" y="588" width="4" height="1" fill="#ba55d3"/>
<rect x="284" y="588" width="3" height="1" fill="#008000"/>
<rect x="287" y="588" width="4" height="4" fill="#ff0000"/>
<rect x="291" y="588" width="2" height="1" fill="#3c3cff"/>
<rect x="291" y="589" width="2" height="2" fill="#ffb6c1"/>
<rect x="269" y="589" width="4" height="2" fill="#3c3cff"/>
<rect x="277" y="589" width="3" height="2" fill="#3c3cff"/>
<rect x="280" y="589" width="7" height="2" fill="#00bfff"/>
<rect x="291" y="591" width="2" height="4" fill="#00bfff"/>
<rect x="287" y="591" width="6" height="2" fill="#00ffff"/>
<rect x="304" y="554" width="3" height="2" fill="#3c3cff"/>
<rect x="301" y="556" width="3" height="2" fill="#3c3cff"/>
<rect x="297" y="558" width="4" height="2" fill="#3c3cff"/>
<rect x="291" y="560" width="3" height="3" fill="#3c3cff"/>
<rect x="288" y="563" width="3" height="2" fill="#3c3cff"/>
<rect x="288" y="565" width="3" height="2" fill="#ffd700"/>
<rect x="297" y="562" width="7" height="1" fill="#3c3cff"/>
<rect x="297" y="563" width="4" height="2" fill="#00ffff"/>
<rect x="297" y="565" width="4" height="2" fill="#3c3cff"/>
<rect x="301" y="565" width="3" height="2" fill="#ba55d3"/>
<rect x="319" y="565" width="4" height="2" fill="#3c3cff"/>
<rect x="311" y="569" width="4" height="2" fill="#ff0000"/>
<rect x="297" y="571" width="4" height="2" fill="#00ffff"/>
<rect x="301" y="571" width="3" height="2" fill="#3c3cff"/>
<rect x="324" y="571" width="4" height="4" fill="#ff0000"/>
<rect x="311" y="573" width="4" height="2" fill="#3c3cff"/>
<rect x="311" y="575" width="4" height="1" fill="#00bfff"/>
<rect x="319" y="573" width="4" height="2" fill="#ff0000"/>
<rect x="307" y="575" width="4" height="1" fill="#ffd700"/>
<rect x="291" y="576" width="3" height="2" fill="#00bfff"/>
<rect x="291" y="578" width="3" height="4" fill="#3c3cff"/>
<rect x="304" y="576" width="7" height="2" fill="#ff0000"/>
<rect x="304" y="578" width="3" height="6" fill="#ff0000"/>
<rect x="307" y="578" width="4" height="2" fill="#00ffff"/>
<rect x="307" y="580" width="4" height="2" fill="#ff0000"/>
<rect x="307" y="582" width="4" height="2" fill="#3c3cff"/>
<rect x="311" y="582" width="4" height="2" fill="#00bfff"/>
<rect x="297" y="578" width="4" height="2" fill="#3c3cff"/>
<rect x="319" y="575" width="4" height="3" fill="#00bfff"/>
<rect x="319" y="578" width="4" height="2" fill="#ffb6c1"/>
<rect x="319" y="580" width="4" height="2" fill="#00bfff"/>
<rect x="319" y="582" width="4" height="2" fill="#ba55d3"/>
<rect x="324" y="578" width="4" height="2" fill="#008000"/>
<rect x="324" y="580" width="4" height="2" fill="#ff0000"/>
<rect x="324" y="582" width="4" height="2" fill="#00bfff"/>
<rect x="324" y="584" width="4" height="2" fill="#008000"/>
<rect x="324" y="586" width="4" height="2" fill="#00bfff"/>
<rect x="324" y="588" width="4" height="1" fill="#008000"/>
<rect x="297" y="582" width="7" height="6" fill="#ff0000"/>
<rect x="315" y="584" width="8" height="5" fill="#00bfff"/>
<rect x="288" y="586" width="3" height="2" fill="#008000"/>
<rect x="291" y="586" width="3" height="2" fill="#ff0000"/>
<rect x="294" y="586" width="3" height="2" fill="#ba55d3"/>
<rect x="301" y="586" width="3" height="3" fill="#3c3cff"/>
<rect x="304" y="586" width="3" height="2" fill="#ba55d3"/>
<rect x="307" y="586" width="4" height="2" fill="#008000"/>
<rect x="311" y="586" width="4" height="2" fill="#00ffff"/>
<rect x="284" y="588" width="3" height="1" fill="#008000"/>
<rect x="287" y="588" width="4" height="3" fill="#ff0000"/>
<rect x="291" y="588" width="3" height="1" fill="#3c3cff"/>
<rect x="291" y="589" width="3" height="2" fill="#ffb6c1"/>
<rect x="294" y="588" width="3" height="3" fill="#ff0000"/>
<rect x="297" y="588" width="4" height="1" fill="#00bfff"/>
<rect x="297" y="589" width="7" height="10" fill="#008000"/>
<rect x="301" y="589" width="3" height="2" fill="#00bfff"/>
<rect x="304" y="588" width="3" height="1" fill="#008000"/>
<rect x="304" y="589" width="3" height="4" fill="#ff0000"/>
<rect x="307" y="588" width="4" height="1" fill="#ff0000"/>
<rect x="307" y="589" width="4" height="2" fill="#00bfff"/>
<rect x="311" y="588" width="4" height="3" fill="#008000"/>
<rect x="319" y="589" width="4" height="2" fill="#008000"/>
<rect x="319" y="591" width="4" height="2" fill="#00bfff"/>
<rect x="319" y="593" width="4" height="2" fill="#00ffff"/>
<rect x="283" y="589" width="4" height="2" fill="#00bfff"/>
<rect x="283" y="591" width="4" height="6" fill="#ff0000"/>
<rect x="287" y="593" width="4" height="4" fill="#ff0000"/>
<rect x="287" y="591" width="10" height="2" fill="#00bfff"/>
<rect x="291" y="593" width="6" height="2" fill="#00bfff"/>
<rect x="291" y="595" width="3" height="2" fill="#00ffff"/>
<rect x="294" y="595" width="3" height="2" fill="#008000"/>
<rect x="284" y="595" width="3" height="2" fill="#ffb6c1"/>
<rect x="304" y="593" width="3" height="2" fill="#00bfff"/>
<rect x="304" y="595" width="3" height="2" fill="#008000"/>
<rect x="307" y="591" width="8" height="2" fill="#ffb6c1"/>
<rect x="307" y="593" width="4" height="2" fill="#ffb6c1"/>
<rect x="311" y="593" width="4" height="2" fill="#00ffff"/>
<rect x="307" y="595" width="4" height="4" fill="#00ffff"/>
<rect x="284" y="597" width="10" height="2" fill="#ff0000"/>
<rect x="294" y="597" width="3" height="2" fill="#00bfff"/>
<rect x="283" y="597" width="1" height="4" fill="#00bfff"/>
<rect x="284" y="599" width="3" height="2" fill="#ffb6c1"/>
<rect x="287" y="599" width="7" height="2" fill="#00ffff"/>
<rect x="294" y="599" width="3" height="2" fill="#008000"/>
<rect x="297" y="599" width="4" height="2" fill="#ff0000"/>
<rect x="304" y="599" width="3" height="3" fill="#008000"/>
<rect x="283" y="601" width="1" height="3" fill="#008000"/>
<rect x="284" y="601" width="3" height="3" fill="#ff0000"/>
<rect x="291" y="601" width="3" height="3" fill="#ff0000"/>
<rect x="294" y="601" width="3" height="1" fill="#ff0000"/>
<rect x="294" y="602" width="3" height="2" fill="#00bfff"/>
<rect x="284" y="604" width="7" height="2" fill="#00ffff"/>
<rect x="284" y="606" width="3" height="2" fill="#00ffff"/>
<rect x="291" y="604" width="3" height="4" fill="#008000"/>
<rect x="283" y="606" width="1" height="4" fill="#00bfff"/>
<rect x="291" y="608" width="3" height="2" fill="#ffb6c1"/>
<rect x="284" y="614" width="3" height="1" fill="#ff0000"/>
<rect x="297" y="614" width="4" height="1" fill="#ff0000"/>
<rect x="335" y="556" width="8" height="2" fill="#00ffff"/>
<rect x="328" y="558" width="7" height="2" fill="#ff0000"/>
<rect x="328" y="560" width="7" height="2" fill="#ffd700"/>
<rect x="335" y="560" width="8" height="2" fill="#ff0000"/>
<rect x="343" y="563" width="7" height="2" fill="#00bfff"/>
<rect x="328" y="565" width="7" height="2" fill="#00ffff"/>
<rect x="350" y="558" width="6" height="4" fill="#008000"/>
<rect x="350" y="562" width="6" height="1" fill="#ffb6c1"/>
<rect x="350" y="563" width="6" height="8" fill="#008000"/>
<rect x="356" y="552" width="5" height="2" fill="#00bfff"/>
<rect x="356" y="554" width="5" height="2" fill="#ff0000"/>
<rect x="356" y="556" width="5" height="6" fill="#00bfff"/>
<rect x="356" y="562" width="5" height="1" fill="#008000"/>
<rect x="356" y="563" width="5" height="2" fill="#00bfff"/>
<rect x="356" y="567" width="5" height="2" fill="#00bfff"/>
<rect x="356" y="569" width="5" height="4" fill="#008000"/>
<rect x="361" y="550" width="2" height="4" fill="#008000"/>
<rect x="361" y="554" width="2" height="2" fill="#00bfff"/>
<rect x="361" y="556" width="2" height="6" fill="#008000"/>
<rect x="361" y="565" width="2" height="6" fill="#00bfff"/>
<rect x="361" y="573" width="2" height="3" fill="#008000"/>
<rect x="335" y="569" width="8" height="2" fill="#ff0000"/>
<rect x="343" y="569" width="7" height="2" fill="#ffb6c1"/>
<rect x="343" y="571" width="7" height="2" fill="#008000"/>
<rect x="335" y="573" width="15" height="2" fill="#ffb6c1"/>
<rect x="350" y="571" width="6" height="4" fill="#00bfff"/>
<rect x="356" y="573" width="5" height="2" fill="#00bfff"/>
<rect x="328" y="575" width="7" height="1" fill="#ff0000"/>
<rect x="335" y="575" width="8" height="3" fill="#00ffff"/>
<rect x="343" y="575" width="7" height="1" fill="#ba55d3"/>
<rect x="343" y="576" width="7" height="2" fill="#00bfff"/>
<rect x="350" y="575" width="19" height="1" fill="#008000"/>
<rect x="324" y="578" width="19" height="2" fill="#008000"/>
<rect x="335" y="580" width="8" height="6" fill="#008000"/>
<rect x="324" y="580" width="4" height="2" fill="#ff0000"/>
<rect x="324" y="582" width="4" height="2" fill="#00bfff"/>
<rect x="324" y="584" width="19" height="2" fill="#008000"/>
<rect x="324" y="586" width="4" height="2" fill="#00bfff"/>
<rect x="324" y="588" width="4" height="1" fill="#008000"/>
<rect x="328" y="588" width="15" height="5" fill="#008000"/>
<rect x="343" y="580" width="7" height="2" fill="#00bfff"/>
<rect x="350" y="578" width="6" height="2" fill="#008000"/>
<rect x="350" y="580" width="6" height="2" fill="#ff0000"/>
<rect x="356" y="578" width="5" height="4" fill="#00bfff"/>
<rect x="356" y="584" width="5" height="2" fill="#00ffff"/>
<rect x="379" y="550" width="4" height="2" fill="#008000"/>
<rect x="383" y="550" width="4" height="4" fill="#00bfff"/>
<rect x="383" y="554" width="4" height="2" fill="#008000"/>
<rect x="392" y="549" width="5" height="5" fill="#008000"/>
<rect x="361" y="550" width="12" height="2" fill="#008000"/>
<rect x="361" y="552" width="8" height="2" fill="#008000"/>
<rect x="369" y="552" width="4" height="4" fill="#00ffff"/>
<rect x="373" y="552" width="3" height="4" fill="#008000"/>
<rect x="361" y="554" width="4" height="2" fill="#00bfff"/>
<rect x="361" y="556" width="8" height="6" fill="#008000"/>
<rect x="365" y="562" width="4" height="7" fill="#008000"/>
<rect x="369" y="556" width="4" height="2" fill="#008000"/>
<rect x="373" y="558" width="3" height="2" fill="#008000"/>
<rect x="355" y="558" width="1" height="4" fill="#008000"/>
<rect x="361" y="562" width="4" height="1" fill="#00bfff"/>
<rect x="361" y="565" width="4" height="6" fill="#00bfff"/>
<rect x="369" y="563" width="4" height="2" fill="#00bfff"/>
<rect x="373" y="562" width="3" height="9" fill="#008000"/>
<rect x="376" y="563" width="3" height="15" fill="#008000"/>
<rect x="361" y="573" width="4" height="2" fill="#008000"/>
<rect x="365" y="573" width="4" height="2" fill="#00bfff"/>
<rect x="369" y="573" width="4" height="2" fill="#008000"/>
<rect x="383" y="562" width="4" height="3" fill="#008000"/>
<rect x="387" y="565" width="5" height="2" fill="#008000"/>
<rect x="392" y="562" width="5" height="3" fill="#008000"/>
<rect x="503" y="554" width="7" height="2" fill="#ffd700"/>
<rect x="517" y="580" width="7" height="2" fill="#ff0000"/>
<rect x="517" y="586" width="7" height="2" fill="#ff0000"/>
<rect x="557" y="589" width="7" height="2" fill="#3c3cff"/>
<rect x="577" y="621" width="6" height="2" fill="#ff0000"/>
<rect x="597" y="575" width="7" height="1" fill="#3c3cff"/>
<rect x="597" y="597" width="7" height="2" fill="#3c3cff"/>
<rect x="597" y="602" width="7" height="2" fill="#3c3cff"/>
<rect x="597" y="606" width="7" height="2" fill="#ba55d3"/>
<rect x="597" y="625" width="7" height="2" fill="#3c3cff"/>
<rect x="597" y="630" width="7" height="2" fill="#ba55d3"/>
<rect x="597" y="634" width="7" height="2" fill="#ffd700"/>
<rect x="597" y="640" width="7" height="1" fill="#3c3cff"/>
<rect x="597" y="647" width="7" height="2" fill="#ff0000"/>
<rect x="597" y="649" width="7" height="2" fill="#ba55d3"/>
<rect x="661" y="599" width="12" height="2" fill="#ff0000"/>
<rect x="661" y="641" width="12" height="2" fill="#00bfff"/>
<rect x="661" y="645" width="12" height="2" fill="#ff0000"/>
<rect x="684" y="601" width="10" height="1" fill="#ba55d3"/>
<rect x="730" y="575" width="16" height="1" fill="#ffd700"/>
<rect x="730" y="576" width="16" height="2" fill="#ff0000"/>
<rect x="717" y="640" width="13" height="1" fill="#008000"/>
<rect x="717" y="649" width="13" height="2" fill="#ba55d3"/>
<rect x="238" y="593" width="6" height="2" fill="#00bfff"/>
<rect x="238" y="595" width="6" height="2" fill="#ff0000"/>
<rect x="131" y="654" width="3" height="2" fill="#00ffff"/>
<rect x="146" y="667" width="4" height="2" fill="#ffd700"/>
<rect x="112" y="684" width="4" height="2" fill="#ffb6c1"/>
<rect x="112" y="686" width="4" height="4" fill="#ba55d3"/>
<rect x="154" y="695" width="3" height="2" fill="#ffd700"/>
<rect x="112" y="705" width="4" height="1" fill="#00bfff"/>
<rect x="134" y="710" width="3" height="2" fill="#00bfff"/>
<rect x="137" y="714" width="3" height="2" fill="#00ffff"/>
<rect x="134" y="716" width="3" height="2" fill="#ff0000"/>
<rect x="134" y="718" width="3" height="3" fill="#00ffff"/>
<rect x="137" y="718" width="3" height="1" fill="#00ffff"/>
<rect x="137" y="719" width="3" height="4" fill="#ffd700"/>
<rect x="140" y="718" width="3" height="1" fill="#00bfff"/>
<rect x="140" y="719" width="3" height="2" fill="#00ffff"/>
<rect x="140" y="721" width="3" height="2" fill="#ff0000"/>
<rect x="143" y="718" width="3" height="3" fill="#ffd700"/>
<rect x="134" y="721" width="3" height="2" fill="#ff0000"/>
<rect x="134" y="723" width="3" height="2" fill="#3c3cff"/>
<rect x="137" y="723" width="3" height="2" fill="#00ffff"/>
<rect x="146" y="718" width="4" height="1" fill="#ff0000"/>
<rect x="150" y="712" width="4" height="2" fill="#00bfff"/>
<rect x="150" y="714" width="4" height="2" fill="#ffb6c1"/>
<rect x="150" y="716" width="4" height="2" fill="#ff0000"/>
<rect x="150" y="718" width="4" height="1" fill="#00bfff"/>
<rect x="154" y="706" width="3" height="2" fill="#ff0000"/>
<rect x="154" y="708" width="3" height="2" fill="#3c3cff"/>
<rect x="154" y="710" width="3" height="2" fill="#ffb6c1"/>
<rect x="154" y="712" width="3" height="2" fill="#00ffff"/>
<rect x="154" y="714" width="3" height="2" fill="#ffd700"/>
<rect x="154" y="716" width="3" height="2" fill="#ffb6c1"/>
<rect x="154" y="718" width="3" height="1" fill="#ffd700"/>
<rect x="154" y="719" width="3" height="2" fill="#00ffff"/>
<rect x="157" y="708" width="4" height="4" fill="#ff0000"/>
<rect x="157" y="712" width="4" height="2" fill="#00bfff"/>
<rect x="157" y="714" width="4" height="2" fill="#ffb6c1"/>
<rect x="157" y="716" width="4" height="3" fill="#ff0000"/>
<rect x="161" y="703" width="3" height="3" fill="#ff0000"/>
<rect x="161" y="706" width="3" height="2" fill="#ffb6c1"/>
<rect x="161" y="710" width="3" height="4" fill="#ffb6c1"/>
<rect x="164" y="701" width="3" height="2" fill="#ff0000"/>
<rect x="164" y="703" width="3" height="3" fill="#ffb6c1"/>
<rect x="112" y="719" width="4" height="2" fill="#00ffff"/>
<rect x="112" y="721" width="4" height="2" fill="#ff0000"/>
<rect x="112" y="723" width="4" height="2" fill="#00bfff"/>
<rect x="112" y="725" width="4" height="2" fill="#00ffff"/>
<rect x="116" y="719" width="3" height="2" fill="#ffb6c1"/>
<rect x="116" y="721" width="3" height="4" fill="#ff0000"/>
<rect x="119" y="718" width="3" height="1" fill="#00bfff"/>
<rect x="119" y="719" width="3" height="2" fill="#00ffff"/>
<rect x="119" y="721" width="3" height="2" fill="#ffb6c1"/>
<rect x="119" y="723" width="3" height="4" fill="#00bfff"/>
<rect x="122" y="718" width="2" height="1" fill="#00ffff"/>
<rect x="122" y="719" width="2" height="4" fill="#ff0000"/>
<rect x="122" y="723" width="2" height="2" fill="#00ffff"/>
<rect x="122" y="725" width="2" height="2" fill="#ffb6c1"/>
<rect x="124" y="721" width="2" height="4" fill="#ffd700"/>
<rect x="126" y="718" width="2" height="3" fill="#ff0000"/>
<rect x="126" y="721" width="2" height="2" fill="#00bfff"/>
<rect x="126" y="723" width="2" height="2" fill="#00ffff"/>
<rect x="184" y="650" width="3" height="4" fill="#ff0000"/>
<rect x="180" y="654" width="4" height="2" fill="#ff0000"/>
<rect x="193" y="662" width="3" height="7" fill="#ff0000"/>
<rect x="187" y="666" width="4" height="1" fill="#ba55d3"/>
<rect x="187" y="667" width="4" height="2" fill="#ff0000"/>
<rect x="193" y="670" width="3" height="1" fill="#ff0000"/>
<rect x="187" y="670" width="4" height="3" fill="#ff0000"/>
<rect x="191" y="671" width="2" height="4" fill="#ff0000"/>
<rect x="187" y="675" width="4" height="2" fill="#ffb6c1"/>
<rect x="184" y="677" width="7" height="3" fill="#ff0000"/>
<rect x="193" y="677" width="3" height="2" fill="#ffd700"/>
<rect x="193" y="679" width="3" height="1" fill="#ff0000"/>
<rect x="191" y="682" width="2" height="2" fill="#ffb6c1"/>
<rect x="196" y="682" width="3" height="2" fill="#ffb6c1"/>
<rect x="203" y="682" width="5" height="4" fill="#ffb6c1"/>
<rect x="203" y="686" width="5" height="2" fill="#ba55d3"/>
<rect x="203" y="690" width="5" height="2" fill="#ffb6c1"/>
<rect x="187" y="684" width="4" height="2" fill="#ff0000"/>
<rect x="191" y="684" width="2" height="2" fill="#ba55d3"/>
<rect x="193" y="684" width="3" height="2" fill="#ff0000"/>
<rect x="180" y="686" width="7" height="4" fill="#ff0000"/>
<rect x="187" y="686" width="4" height="2" fill="#ba55d3"/>
<rect x="193" y="686" width="3" height="2" fill="#ffb6c1"/>
<rect x="187" y="688" width="4" height="2" fill="#3c3cff"/>
<rect x="193" y="688" width="3" height="4" fill="#ff0000"/>
<rect x="196" y="688" width="3" height="4" fill="#ffb6c1"/>
<rect x="191" y="690" width="5" height="2" fill="#ff0000"/>
<rect x="184" y="692" width="3" height="1" fill="#ba55d3"/>
<rect x="187" y="690" width="4" height="9" fill="#00bfff"/>
<rect x="191" y="692" width="5" height="1" fill="#3c3cff"/>
<rect x="191" y="693" width="2" height="2" fill="#3c3cff"/>
<rect x="193" y="693" width="3" height="2" fill="#ffb6c1"/>
<rect x="191" y="695" width="2" height="2" fill="#00bfff"/>
<rect x="193" y="695" width="3" height="2" fill="#ff0000"/>
<rect x="184" y="697" width="3" height="5" fill="#3c3cff"/>
<rect x="187" y="699" width="4" height="2" fill="#ff0000"/>
<rect x="191" y="701" width="2" height="4" fill="#00bfff"/>
<rect x="199" y="697" width="4" height="2" fill="#ffb6c1"/>
<rect x="203" y="697" width="5" height="2" fill="#ffd700"/>
<rect x="199" y="699" width="4" height="2" fill="#ff0000"/>
<rect x="203" y="699" width="5" height="2" fill="#ffb6c1"/>
<rect x="208" y="699" width="4" height="4" fill="#00ffff"/>
<rect x="208" y="703" width="4" height="3" fill="#3c3cff"/>
<rect x="203" y="706" width="5" height="2" fill="#008000"/>
<rect x="212" y="690" width="10" height="3" fill="#ba55d3"/>
<rect x="212" y="693" width="5" height="2" fill="#ffb6c1"/>
<rect x="217" y="693" width="5" height="2" fill="#ba55d3"/>
<rect x="222" y="686" width="4" height="4" fill="#ffb6c1"/>
<rect x="222" y="693" width="4" height="4" fill="#ffb6c1"/>
<rect x="226" y="690" width="6" height="3" fill="#ffb6c1"/>
<rect x="232" y="692" width="6" height="1" fill="#00bfff"/>
<rect x="238" y="688" width="6" height="2" fill="#008000"/>
<rect x="238" y="690" width="6" height="2" fill="#ff0000"/>
<rect x="232" y="695" width="6" height="2" fill="#ba55d3"/>
<rect x="238" y="695" width="6" height="2" fill="#ffb6c1"/>
<rect x="232" y="697" width="12" height="2" fill="#ffb6c1"/>
<rect x="212" y="699" width="5" height="6" fill="#ffb6c1"/>
<rect x="217" y="701" width="9" height="2" fill="#ffb6c1"/>
<rect x="222" y="703" width="4" height="2" fill="#ffb6c1"/>
<rect x="226" y="699" width="6" height="2" fill="#ff0000"/>
<rect x="226" y="701" width="6" height="2" fill="#00ffff"/>
<rect x="226" y="703" width="6" height="3" fill="#ff0000"/>
<rect x="238" y="699" width="6" height="2" fill="#ff0000"/>
<rect x="238" y="701" width="6" height="4" fill="#ffd700"/>
<rect x="238" y="705" width="6" height="1" fill="#ffb6c1"/>
<rect x="244" y="695" width="4" height="2" fill="#ff0000"/>
<rect x="252" y="697" width="4" height="4" fill="#ffb6c1"/>
<rect x="248" y="703" width="8" height="3" fill="#ffb6c1"/>
<rect x="265" y="693" width="4" height="4" fill="#ffb6c1"/>
<rect x="265" y="697" width="4" height="4" fill="#ffd700"/>
<rect x="260" y="701" width="5" height="2" fill="#ffd700"/>
<rect x="260" y="703" width="5" height="3" fill="#ffb6c1"/>
<rect x="265" y="703" width="4" height="2" fill="#ffb6c1"/>
<rect x="269" y="701" width="4" height="2" fill="#00ffff"/>
<rect x="269" y="703" width="4" height="2" fill="#ffb6c1"/>
<rect x="269" y="705" width="4" height="1" fill="#ffd700"/>
<rect x="273" y="695" width="4" height="4" fill="#ffb6c1"/>
<rect x="273" y="701" width="4" height="2" fill="#ffd700"/>
<rect x="273" y="703" width="4" height="3" fill="#ffb6c1"/>
<rect x="277" y="699" width="3" height="2" fill="#ffb6c1"/>
<rect x="277" y="701" width="7" height="5" fill="#ffd700"/>
<rect x="280" y="699" width="4" height="2" fill="#ffd700"/>
<rect x="280" y="701" width="4" height="2" fill="#ffb6c1"/>
<rect x="284" y="701" width="9" height="4" fill="#ffd700"/>
<rect x="284" y="705" width="7" height="1" fill="#ffb6c1"/>
<rect x="287" y="699" width="4" height="2" fill="#ffb6c1"/>
<rect x="290" y="701" width="11" height="4" fill="#ffd700"/>
<rect x="301" y="693" width="3" height="4" fill="#ffb6c1"/>
<rect x="301" y="699" width="6" height="4" fill="#ffb6c1"/>
<rect x="301" y="703" width="6" height="2" fill="#ffd700"/>
<rect x="301" y="705" width="3" height="1" fill="#ffd700"/>
<rect x="311" y="701" width="4" height="2" fill="#ffd700"/>
<rect x="311" y="703" width="4" height="2" fill="#00ffff"/>
<rect x="319" y="703" width="4" height="2" fill="#ffb6c1"/>
<rect x="324" y="701" width="4" height="2" fill="#ffb6c1"/>
<rect x="328" y="692" width="7" height="1" fill="#ffb6c1"/>
<rect x="328" y="705" width="7" height="1" fill="#ffb6c1"/>
<rect x="328" y="662" width="7" height="2" fill="#ffb6c1"/>
<rect x="328" y="721" width="7" height="4" fill="#ffb6c1"/>
<rect x="423" y="670" width="8" height="1" fill="#008000"/>
<rect x="423" y="706" width="8" height="2" fill="#ba55d3"/>
<rect x="577" y="677" width="6" height="2" fill="#ff0000"/>
<rect x="597" y="671" width="7" height="2" fill="#3c3cff"/>
<rect x="597" y="677" width="7" height="2" fill="#3c3cff"/>
<rect x="597" y="699" width="7" height="2" fill="#3c3cff"/>
<rect x="597" y="708" width="7" height="2" fill="#ba55d3"/>
<rect x="597" y="714" width="7" height="2" fill="#ba55d3"/>
<rect x="597" y="721" width="7" height="2" fill="#ffd700"/>
<rect x="597" y="736" width="7" height="2" fill="#3c3cff"/>
<rect x="661" y="680" width="12" height="2" fill="#ff0000"/>
<rect x="661" y="684" width="12" height="2" fill="#ff0000"/>
<rect x="661" y="688" width="12" height="2" fill="#ba55d3"/>
<rect x="661" y="692" width="12" height="1" fill="#ba55d3"/>
<rect x="661" y="716" width="12" height="2" fill="#ff0000"/>
<rect x="661" y="723" width="12" height="2" fill="#ba55d3"/>
<rect x="661" y="727" width="12" height="2" fill="#00bfff"/>
<rect x="661" y="734" width="12" height="2" fill="#ff0000"/>
<rect x="717" y="651" width="13" height="2" fill="#ffb6c1"/>
<rect x="717" y="660" width="13" height="2" fill="#00ffff"/>
<rect x="717" y="662" width="13" height="2" fill="#ffb6c1"/>
<rect x="717" y="664" width="13" height="7" fill="#ffd700"/>
<rect x="717" y="671" width="13" height="4" fill="#ff0000"/>
<rect x="717" y="677" width="13" height="2" fill="#ffd700"/>
<rect x="717" y="679" width="13" height="1" fill="#00ffff"/>
<rect x="717" y="680" width="13" height="2" fill="#ffd700"/>
<rect x="717" y="686" width="13" height="4" fill="#ffd700"/>
<rect x="717" y="690" width="13" height="2" fill="#00ffff"/>
<rect x="717" y="692" width="13" height="1" fill="#ffd700"/>
<rect x="717" y="693" width="13" height="2" fill="#ff0000"/>
<rect x="717" y="701" width="13" height="4" fill="#00ffff"/>
<rect x="717" y="705" width="13" height="1" fill="#ffd700"/>
<rect x="717" y="706" width="13" height="2" fill="#ffb6c1"/>
<rect x="717" y="708" width="13" height="2" fill="#ffd700"/>
<rect x="717" y="710" width="13" height="4" fill="#ff0000"/>
<rect x="717" y="714" width="13" height="2" fill="#00ffff"/>
<rect x="717" y="718" width="13" height="1" fill="#00ffff"/>
<rect x="717" y="719" width="13" height="2" fill="#ffb6c1"/>
<rect x="717" y="721" width="13" height="2" fill="#ff0000"/>
<rect x="717" y="723" width="13" height="2" fill="#008000"/>
<rect x="717" y="725" width="13" height="2" fill="#ffb6c1"/>
<rect x="717" y="727" width="13" height="2" fill="#008000"/>
<rect x="717" y="729" width="13" height="2" fill="#ff0000"/>
<rect x="717" y="731" width="13" height="1" fill="#ffd700"/>
<rect x="717" y="732" width="13" height="2" fill="#00ffff"/>
<rect x="717" y="734" width="13" height="2" fill="#ff0000"/>
<rect x="717" y="736" width="13" height="2" fill="#00ffff"/>
<rect x="768" y="716" width="17" height="2" fill="#ffb6c1"/>
<rect x="361" y="246" width="4" height="4" fill="#ff0000"/>
</g>
<rect x="138" y="101" width="1" height="692" fill="#b0b0b0"/>
<rect x="230" y="101" width="1" height="692" fill="#b0b0b0"/>
<rect x="323" y="101" width="1" height="692" fill="#b0b0b0"/>
<rect x="415" y="101" width="1" height="692" fill="#b0b0b0"/>
<rect x="508" y="101" width="1" height="692" fill="#b0b0b0"/>
<rect x="600" y="101" width="1" height="692" fill="#b0b0b0"/>
<rect x="692" y="101" width="1" height="692" fill="#b0b0b0"/>
<rect x="93" y="174" width="692" height="1" fill="#b0b0b0"/>
<rect x="93" y="298" width="692" height="1" fill="#b0b0b0"/>
<rect x="93" y="421" width="692" height="1" fill="#b0b0b0"/>
<rect x="93" y="545" width="692" height="1" fill="#b0b0b0"/>
<rect x="93" y="669" width="692" height="1" fill="#b0b0b0"/>
<rect x="92" y="100" width="694" height="1" fill="#000"/>
<rect x="92" y="793" width="694" height="1" fill="#000"/>
<rect x="92" y="100" width="1" height="694" fill="#000"/>
<rect x="785" y="100" width="1" height="694" fill="#000"/>
<rect x="138" y="794" width="1" height="5" fill="#000"/>
<rect x="230" y="794" width="1" height="5" fill="#000"/>
<rect x="323" y="794" width="1" height="5" fill="#000"/>
<rect x="415" y="794" width="1" height="5" fill="#000"/>
<rect x="508" y="794" width="1" height="5" fill="#000"/>
<rect x="600" y="794" width="1" height="5" fill="#000"/>
<rect x="692" y="794" width="1" height="5" fill="#000"/>
<rect x="785" y="794" width="1" height="5" fill="#000"/>
<rect x="87" y="174" width="5" height="1" fill="#000"/>
<rect x="87" y="298" width="5" height="1" fill="#000"/>
<rect x="87" y="421" width="5" height="1" fill="#000"/>
<rect x="87" y="545" width="5" height="1" fill="#000"/>
<rect x="87" y="669" width="5" height="1" fill="#000"/>
<rect x="87" y="793" width="5" height="1" fill="#000"/>
<text transform="translate(133.76,814.80) scale(0.960,1)" font-size="16.93">2</text>
<text transform="translate(225.80,814.80) scale(0.996,1)" font-size="16.93">4</text>
<text transform="translate(318.64,814.80) scale(1.031,1)" font-size="16.93">6</text>
<text transform="translate(410.75,814.80) scale(1.007,1)" font-size="16.93">8</text>
<text transform="translate(498.84,814.80) scale(0.952,1)" font-size="16.93">1</text><text transform="translate(508.90,814.80) scale(0.996,1)" font-size="16.93">0</text>
<text transform="translate(590.84,814.80) scale(0.952,1)" font-size="16.93">1</text><text transform="translate(600.85,814.80) scale(0.960,1)" font-size="16.93">2</text>
<text transform="translate(682.84,814.80) scale(0.952,1)" font-size="16.93">1</text><text transform="translate(692.89,814.80) scale(0.996,1)" font-size="16.93">4</text>
<text transform="translate(775.84,814.80) scale(0.952,1)" font-size="16.93">1</text><text transform="translate(785.73,814.80) scale(1.031,1)" font-size="16.93">6</text>
<text transform="translate(41.85,179.80) scale(0.952,1)" font-size="16.93">1</text><text transform="translate(51.90,179.80) scale(0.996,1)" font-size="16.93">0</text><text transform="translate(62.09,179.80) scale(0.996,1)" font-size="16.93">0</text><text transform="translate(72.28,179.80) scale(0.996,1)" font-size="16.93">0</text>
<text transform="translate(51.85,303.80) scale(1.007,1)" font-size="16.93">8</text><text transform="translate(62.09,303.80) scale(0.996,1)" font-size="16.93">0</text><text transform="translate(72.28,303.80) scale(0.996,1)" font-size="16.93">0</text>
<text transform="translate(51.74,426.80) scale(1.031,1)" font-size="16.93">6</text><text transform="translate(62.09,426.80) scale(0.996,1)" font-size="16.93">0</text><text transform="translate(72.28,426.80) scale(0.996,1)" font-size="16.93">0</text>
<text transform="translate(51.90,550.80) scale(0.996,1)" font-size="16.93">4</text><text transform="translate(62.09,550.80) scale(0.996,1)" font-size="16.93">0</text><text transform="translate(72.28,550.80) scale(0.996,1)" font-size="16.93">0</text>
<text transform="translate(51.86,674.80) scale(0.960,1)" font-size="16.93">2</text><text transform="translate(62.09,674.80) scale(0.996,1)" font-size="16.93">0</text><text transform="translate(72.28,674.80) scale(0.996,1)" font-size="16.93">0</text>
<text transform="translate(72.28,798.80) scale(0.996,1)" font-size="16.93">0</text>
<text transform="translate(336.97,841.70) scale(0.810,1)" font-size="25.44">F</text><text transform="translate(350.27,841.70) scale(1.211,1)" font-size="25.44">r</text><text transform="translate(358.49,841.70) scale(1.021,1)" font-size="25.44">e</text><text transform="translate(372.76,841.70) scale(1.026,1)" font-size="25.44">q</text><text transform="translate(388.16,841.70) scale(1.019,1)" font-size="25.44">u</text><text transform="translate(403.26,841.70) scale(1.021,1)" font-size="25.44">e</text><text transform="translate(418.29,841.70) scale(1.019,1)" font-size="25.44">n</text><text transform="translate(433.37,841.70) scale(0.948,1)" font-size="25.44">c</text><text transform="translate(446.94,841.70) scale(1.015,1)" font-size="25.44">y</text><text transform="translate(468.97,841.70) scale(0.799,1)" font-size="25.44">(</text><text transform="translate(477.93,841.70) scale(0.942,1)" font-size="25.44">M</text><text transform="translate(498.68,841.70) scale(0.940,1)" font-size="25.44">H</text><text transform="translate(516.35,841.70) scale(1.013,1)" font-size="25.44">z</text><text transform="translate(530.79,841.70) scale(0.799,1)" font-size="25.44">)</text>
<g transform="translate(28.2,560.2) rotate(-90)"><text transform="translate(0.08,0.00) scale(0.959,1)" font-size="25.39">V</text><text transform="translate(17.04,0.00) scale(0.966,1)" font-size="25.39">i</text><text transform="translate(22.70,0.00) scale(1.211,1)" font-size="25.39">r</text><text transform="translate(32.60,0.00) scale(1.263,1)" font-size="25.39">t</text><text transform="translate(42.20,0.00) scale(1.019,1)" font-size="25.39">u</text><text transform="translate(57.59,0.00) scale(0.850,1)" font-size="25.39">a</text><text transform="translate(72.37,0.00) scale(0.966,1)" font-size="25.39">l</text><text transform="translate(86.44,0.00) scale(1.026,1)" font-size="25.39">h</text><text transform="translate(101.50,0.00) scale(1.021,1)" font-size="25.39">e</text><text transform="translate(116.67,0.00) scale(0.966,1)" font-size="25.39">i</text><text transform="translate(122.95,0.00) scale(1.027,1)" font-size="25.39">g</text><text transform="translate(138.33,0.00) scale(1.026,1)" font-size="25.39">h</text><text transform="translate(153.33,0.00) scale(1.263,1)" font-size="25.39">t</text><text transform="translate(171.01,0.00) scale(0.799,1)" font-size="25.39">(</text><text transform="translate(179.93,0.00) scale(1.057,1)" font-size="25.39">k</text><text transform="translate(193.83,0.00) scale(1.077,1)" font-size="25.39">m</text><text transform="translate(218.65,0.00) scale(0.799,1)" font-size="25.39">)</text></g>
<text transform="translate(151.82,31.70) scale(0.934,1)" font-size="30.42" style="text-rendering:geometricPrecision">N</text><text transform="translate(173.00,31.70) scale(0.952,1)" font-size="30.42" style="text-rendering:geometricPrecision">A</text><text transform="translate(192.90,31.70) scale(0.972,1)" font-size="30.42" style="text-rendering:geometricPrecision">L</text><text transform="translate(217.92,31.70) scale(0.877,1)" font-size="30.42" style="text-rendering:geometricPrecision">C</text><text transform="translate(237.90,31.70) scale(0.952,1)" font-size="30.42" style="text-rendering:geometricPrecision">A</text><text transform="translate(257.79,31.70) scale(0.978,1)" font-size="30.42" style="text-rendering:geometricPrecision">D</text><text transform="translate(279.56,31.70) scale(1.000,1)" font-size="30.42" style="text-rendering:geometricPrecision">I</text><text transform="translate(297.20,31.70) scale(1.019,1)" font-size="30.42" style="text-rendering:geometricPrecision">-</text><text transform="translate(316.86,31.70) scale(0.952,1)" font-size="30.42" style="text-rendering:geometricPrecision">A</text><text transform="translate(336.96,31.70) scale(1.028,1)" font-size="30.42" style="text-rendering:geometricPrecision">p</text><text transform="translate(354.78,31.70) scale(1.211,1)" font-size="30.42" style="text-rendering:geometricPrecision">r</text><text transform="translate(376.52,31.70) scale(0.952,1)" font-size="30.42" style="text-rendering:geometricPrecision">1</text><text transform="translate(394.48,31.70) scale(1.007,1)" font-size="30.42" style="text-rendering:geometricPrecision">8</text><text transform="translate(422.25,31.70) scale(0.952,1)" font-size="30.42" style="text-rendering:geometricPrecision">1</text><text transform="translate(440.67,31.70) scale(0.940,1)" font-size="30.42" style="text-rendering:geometricPrecision">5</text><text transform="translate(458.42,31.70) scale(1.023,1)" font-size="30.42" style="text-rendering:geometricPrecision">:</text><text transform="translate(468.53,31.70) scale(0.952,1)" font-size="30.42" style="text-rendering:geometricPrecision">1</text><text transform="translate(486.95,31.70) scale(0.940,1)" font-size="30.42" style="text-rendering:geometricPrecision">5</text><text transform="translate(504.70,31.70) scale(1.023,1)" font-size="30.42" style="text-rendering:geometricPrecision">:</text><text transform="translate(514.57,31.70) scale(0.996,1)" font-size="30.42" style="text-rendering:geometricPrecision">0</text><text transform="translate(532.87,31.70) scale(0.996,1)" font-size="30.42" style="text-rendering:geometricPrecision">0</text><text transform="translate(560.23,31.70) scale(0.960,1)" font-size="30.42" style="text-rendering:geometricPrecision">2</text><text transform="translate(578.60,31.70) scale(0.996,1)" font-size="30.42" style="text-rendering:geometricPrecision">0</text><text transform="translate(596.83,31.70) scale(0.960,1)" font-size="30.42" style="text-rendering:geometricPrecision">2</text><text transform="translate(615.19,31.70) scale(0.996,1)" font-size="30.42" style="text-rendering:geometricPrecision">4</text><text transform="translate(642.24,31.70) scale(0.929,1)" font-size="30.42" style="text-rendering:geometricPrecision">U</text><text transform="translate(662.18,31.70) scale(1.031,1)" font-size="30.42" style="text-rendering:geometricPrecision">T</text><text transform="translate(680.79,31.70) scale(0.877,1)" font-size="30.42" style="text-rendering:geometricPrecision">C</text>
<rect x="817" y="82" width="29" height="90" fill="#00bfff"/>
<rect x="817" y="172" width="29" height="90" fill="#00ffff"/>
<rect x="817" y="262" width="29" height="90" fill="#ffd700"/>
<rect x="817" y="352" width="29" height="90" fill="#ffb6c1"/>
<rect x="817" y="442" width="29" height="90" fill="#ba55d3"/>
<rect x="817" y="532" width="29" height="90" fill="#3c3cff"/>
<rect x="817" y="622" width="29" height="90" fill="#ff0000"/>
<rect x="817" y="712" width="29" height="90" fill="#008000"/>
<rect x="816.5" y="82.5" width="30" height="720" fill="none" stroke="#000" stroke-width="1" shape-rendering="auto"/>
<rect x="847" y="82" width="2" height="1" fill="#000"/><rect x="849" y="82" width="1" height="1" fill="#666"/>
<rect x="847" y="172" width="2" height="1" fill="#000"/><rect x="849" y="172" width="1" height="1" fill="#666"/>
<rect x="847" y="262" width="2" height="1" fill="#000"/><rect x="849" y="262" width="1" height="1" fill="#666"/>
<rect x="847" y="352" width="2" height="1" fill="#000"/><rect x="849" y="352" width="1" height="1" fill="#666"/>
<rect x="847" y="442" width="2" height="1" fill="#000"/><rect x="849" y="442" width="1" height="1" fill="#666"/>
<rect x="847" y="532" width="2" height="1" fill="#000"/><rect x="849" y="532" width="1" height="1" fill="#666"/>
<rect x="847" y="622" width="2" height="1" fill="#000"/><rect x="849" y="622" width="1" height="1" fill="#666"/>
<rect x="847" y="712" width="2" height="1" fill="#000"/><rect x="849" y="712" width="1" height="1" fill="#666"/>
<rect x="847" y="802" width="2" height="1" fill="#000"/><rect x="849" y="802" width="1" height="1" fill="#666"/>
<rect x="847" y="127" width="5" height="1" fill="#000"/>
<text transform="translate(856.48,132.70) scale(0.957,1)" font-size="16.93">N</text><text transform="translate(868.75,132.70) scale(0.957,1)" font-size="16.93">N</text><text transform="translate(881.17,132.70) scale(0.840,1)" font-size="16.93">E</text>
<rect x="847" y="217" width="5" height="1" fill="#000"/>
<text transform="translate(856.64,222.70) scale(0.840,1)" font-size="16.93">E</text>
<rect x="847" y="307" width="5" height="1" fill="#000"/>
<text transform="translate(856.62,312.70) scale(0.864,1)" font-size="16.93">S</text><text transform="translate(867.02,312.70) scale(0.864,1)" font-size="16.93">S</text><text transform="translate(877.46,312.70) scale(0.840,1)" font-size="16.93">E</text>
<rect x="847" y="397" width="5" height="1" fill="#000"/>
<text transform="translate(856.62,402.70) scale(0.864,1)" font-size="16.93">S</text><text transform="translate(867.02,402.70) scale(0.864,1)" font-size="16.93">S</text><text transform="translate(877.49,402.70) scale(0.955,1)" font-size="16.93">W</text>
<rect x="847" y="487" width="5" height="1" fill="#000"/>
<text transform="translate(856.67,492.70) scale(0.955,1)" font-size="16.93">W</text>
<rect x="847" y="577" width="5" height="1" fill="#000"/>
<text transform="translate(856.48,582.70) scale(0.957,1)" font-size="16.93">N</text><text transform="translate(868.75,582.70) scale(0.957,1)" font-size="16.93">N</text><text transform="translate(881.20,582.70) scale(0.955,1)" font-size="16.93">W</text>
<rect x="847" y="667" width="5" height="1" fill="#000"/>
<text transform="translate(856.25,672.70) scale(0.983,1)" font-size="16.93">V</text><text transform="translate(867.57,672.70) scale(1.046,1)" font-size="16.93">e</text><text transform="translate(876.33,672.70) scale(1.241,1)" font-size="16.93">r</text><text transform="translate(883.07,672.70) scale(1.295,1)" font-size="16.93">t</text><text transform="translate(889.81,672.70) scale(0.990,1)" font-size="16.93">i</text><text transform="translate(894.14,672.70) scale(0.972,1)" font-size="16.93">c</text><text transform="translate(903.31,672.70) scale(0.871,1)" font-size="16.93">a</text><text transform="translate(913.41,672.70) scale(0.990,1)" font-size="16.93">l</text>
<rect x="847" y="757" width="5" height="1" fill="#000"/>
<text transform="translate(856.32,762.70) scale(0.969,1)" font-size="16.93">X</text><text transform="translate(867.45,762.70) scale(1.044,1)" font-size="16.93">-</text><text transform="translate(872.79,762.70) scale(1.104,1)" font-size="16.93">m</text><text transform="translate(888.69,762.70) scale(1.030,1)" font-size="16.93">o</text><text transform="translate(898.70,762.70) scale(1.053,1)" font-size="16.93">d</text><text transform="translate(909.10,762.70) scale(1.046,1)" font-size="16.93">e</text>
<g transform="translate(942.8,549.8) rotate(-90)"><text transform="translate(0.14,0.00) scale(0.946,1)" font-size="25.39">A</text><text transform="translate(16.30,0.00) scale(1.007,1)" font-size="25.39">z</text><text transform="translate(29.44,0.00) scale(0.960,1)" font-size="25.39">i</text><text transform="translate(35.81,0.00) scale(1.070,1)" font-size="25.39">m</text><text transform="translate(59.04,0.00) scale(1.013,1)" font-size="25.39">u</text><text transform="translate(73.95,0.00) scale(1.255,1)" font-size="25.39">t</text><text transform="translate(83.51,0.00) scale(1.020,1)" font-size="25.39">h</text><text transform="translate(106.14,0.00) scale(0.972,1)" font-size="25.39">D</text><text transform="translate(124.80,0.00) scale(0.960,1)" font-size="25.39">i</text><text transform="translate(130.95,0.00) scale(1.204,1)" font-size="25.39">r</text><text transform="translate(140.83,0.00) scale(1.015,1)" font-size="25.39">e</text><text transform="translate(155.05,0.00) scale(0.943,1)" font-size="25.39">c</text><text transform="translate(168.02,0.00) scale(1.255,1)" font-size="25.39">t</text><text transform="translate(177.82,0.00) scale(0.960,1)" font-size="25.39">i</text><text transform="translate(184.08,0.00) scale(0.999,1)" font-size="25.39">o</text><text transform="translate(198.88,0.00) scale(1.013,1)" font-size="25.39">n</text></g>
</svg></body></html>
